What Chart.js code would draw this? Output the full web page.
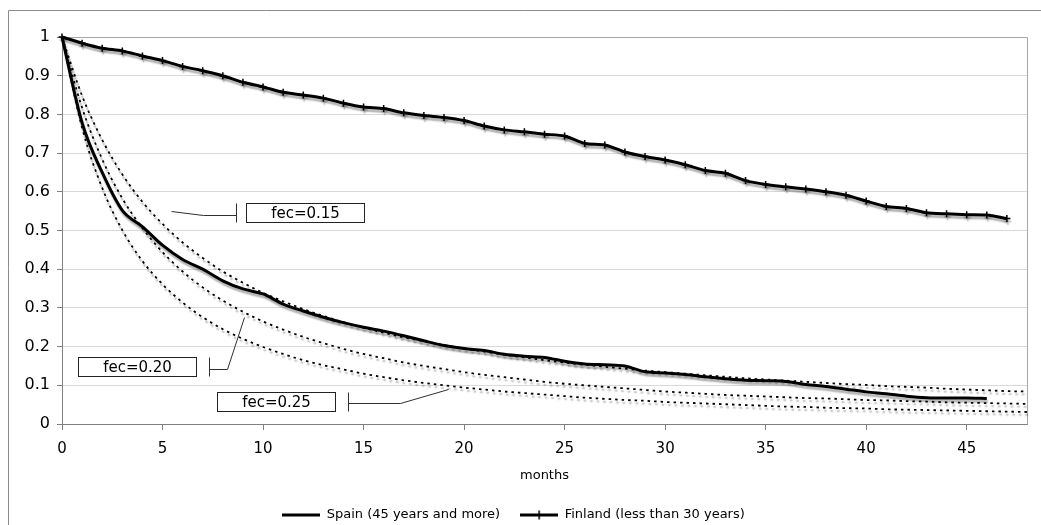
<!DOCTYPE html>
<html><head><meta charset="utf-8">
<script src="https://cdn.jsdelivr.net/npm/chart.js@4.4.1/dist/chart.umd.min.js"></script>
<style>html,body{margin:0;padding:0;background:#fff;}canvas{display:block;}</style>
</head><body>
<canvas id="c" width="1041" height="525"></canvas>
<script>
// ---- data ----
const months = [0,1,2,3,4,5,6,7,8,9,10,11,12,13,14,15,16,17,18,19,20,21,22,23,24,25,26,27,28,29,30,31,32,33,34,35,36,37,38,39,40,41,42,43,44,45,46,47,48];
const spain = [1.000,0.778,0.650,0.552,0.510,0.462,0.425,0.400,0.370,0.349,0.336,0.310,0.292,0.276,0.262,0.250,0.240,0.228,0.215,0.203,0.195,0.190,0.180,0.175,0.172,0.162,0.155,0.153,0.150,0.135,0.132,0.128,0.122,0.117,0.113,0.112,0.110,0.102,0.097,0.090,0.083,0.078,0.072,0.068,0.067,0.067,0.066];
const finland = [1.000,0.984,0.971,0.964,0.951,0.939,0.924,0.913,0.900,0.883,0.871,0.857,0.850,0.842,0.829,0.819,0.815,0.804,0.797,0.792,0.784,0.770,0.760,0.755,0.749,0.744,0.725,0.721,0.703,0.691,0.682,0.670,0.655,0.648,0.629,0.619,0.613,0.607,0.600,0.591,0.576,0.562,0.557,0.546,0.543,0.541,0.540,0.531];
const fec15 = [1.000,0.848,0.734,0.645,0.574,0.517,0.469,0.429,0.394,0.365,0.339,0.317,0.297,0.279,0.263,0.249,0.236,0.224,0.214,0.204,0.195,0.187,0.179,0.172,0.165,0.159,0.153,0.148,0.143,0.138,0.134,0.130,0.126,0.122,0.118,0.115,0.112,0.109,0.106,0.103,0.101,0.098,0.096,0.094,0.091,0.089,0.087,0.085,0.084];
const fec20 = [1.000,0.817,0.684,0.583,0.506,0.444,0.394,0.353,0.319,0.290,0.265,0.244,0.225,0.209,0.194,0.181,0.170,0.159,0.150,0.142,0.134,0.127,0.121,0.115,0.109,0.104,0.100,0.096,0.092,0.088,0.084,0.081,0.078,0.075,0.073,0.071,0.069,0.067,0.066,0.064,0.062,0.061,0.059,0.058,0.056,0.055,0.054,0.053,0.052];
const fec25 = [1.000,0.765,0.610,0.501,0.421,0.361,0.314,0.276,0.245,0.220,0.199,0.181,0.165,0.152,0.141,0.130,0.121,0.113,0.106,0.100,0.094,0.089,0.084,0.080,0.076,0.072,0.068,0.065,0.062,0.060,0.057,0.055,0.053,0.051,0.049,0.047,0.045,0.044,0.042,0.041,0.040,0.038,0.037,0.036,0.035,0.034,0.033,0.032,0.031];
const seriesNames = ['Spain (45 years and more)','Finland (less than 30 years)','fec=0.15','fec=0.20','fec=0.25'];
const xTickValues = [0,5,10,15,20,25,30,35,40,45];
const xTickLabels = ['0','5','10','15','20','25','30','35','40','45'];
const yTickLabels = ['0','0.1','0.2','0.3','0.4','0.5','0.6','0.7','0.8','0.9','1'];
const xTitle = 'months';

// callout annotations, anchored in data units
const callouts = [
  {text:'fec=0.15', box:[9.15,15.0,0.546], bar:8.66, leader:[[8.66,0.539],[7.03,0.539],[5.41,0.551]]},
  {text:'fec=0.20', box:[0.81,6.67,0.149], bar:7.31, leader:[[7.31,0.141],[8.19,0.141],[9.06,0.277]]},
  {text:'fec=0.25', box:[7.70,13.60,0.059], bar:14.21, leader:[[14.21,0.0535],[16.82,0.0535],[19.2,0.09]]}
];

const FONT = '"DejaVu Sans", Verdana, sans-serif';
const toXY = arr => arr.map((v,i)=>({x:months[i], y:v}));

// legend sample images
function legendImg(withCross){
  const cv = document.createElement('canvas'); cv.width = 38; cv.height = 11;
  const g = cv.getContext('2d');
  g.strokeStyle = '#000'; g.lineWidth = 3;
  g.beginPath(); g.moveTo(0,5.5); g.lineTo(38,5.5); g.stroke();
  if (withCross){ g.lineWidth = 1.5; g.beginPath(); g.moveTo(19,1); g.lineTo(19,10); g.stroke(); }
  return cv;
}
const legendImgs = [legendImg(false), legendImg(true)];

const decor = {
  id:'decor',
  beforeDraw(chart){
    const ctx = chart.ctx;
    ctx.save();
    ctx.fillStyle = '#fff'; ctx.fillRect(0,0,chart.width,chart.height);
    ctx.strokeStyle = '#8c8c8c'; ctx.lineWidth = 1;
    ctx.beginPath(); ctx.moveTo(8.5, chart.height); ctx.lineTo(8.5, 10.5); ctx.lineTo(chart.width, 10.5); ctx.stroke();
    ctx.restore();
  },
  beforeDatasetsDraw(chart){
    const ctx = chart.ctx, a = chart.chartArea;
    ctx.save();
    ctx.strokeStyle = '#a6a6a6'; ctx.lineWidth = 1;
    ctx.beginPath(); ctx.moveTo(Math.round(a.left)+0.5, Math.round(a.top)+0.5); ctx.lineTo(Math.round(a.right)+0.5, Math.round(a.top)+0.5); ctx.lineTo(Math.round(a.right)+0.5, Math.round(a.bottom)+0.5); ctx.stroke();
    ctx.restore();
  },
  beforeDatasetDraw(chart){
    const ctx = chart.ctx;
    ctx.save();
    ctx.shadowColor = 'rgba(0,0,0,0.3)'; ctx.shadowOffsetX = 1; ctx.shadowOffsetY = 3; ctx.shadowBlur = 1.5;
  },
  afterDatasetDraw(chart){ chart.ctx.restore(); },
  afterDraw(chart){
    const ctx = chart.ctx, xs = chart.scales.x, ys = chart.scales.y;
    ctx.save();
    callouts.forEach(c=>{
      const x0 = Math.round(xs.getPixelForValue(c.box[0]))+0.5;
      const x1 = Math.round(xs.getPixelForValue(c.box[1]))+0.5;
      const yc = ys.getPixelForValue(c.box[2]);
      const h = 19, top = Math.round(yc-h/2)+0.5;
      ctx.strokeStyle = '#303030'; ctx.lineWidth = 1;
      ctx.beginPath();
      c.leader.forEach((p,i)=>{ const px = Math.round(xs.getPixelForValue(p[0]))+0.5, py = Math.round(ys.getPixelForValue(p[1]))+0.5; if(i) ctx.lineTo(px,py); else ctx.moveTo(px,py); });
      ctx.stroke();
      const bx = Math.round(xs.getPixelForValue(c.bar))+0.5;
      ctx.beginPath(); ctx.moveTo(bx, top); ctx.lineTo(bx, top+h); ctx.stroke();
      ctx.fillStyle = '#fff'; ctx.fillRect(x0, top, x1-x0, h);
      ctx.strokeStyle = '#222'; ctx.strokeRect(x0, top, x1-x0, h);
      ctx.fillStyle = '#000'; ctx.font = '15px ' + FONT; ctx.textAlign = 'center'; ctx.textBaseline = 'middle';
      ctx.fillText(c.text, (x0+x1)/2, top + h/2 + 1);
    });
    ctx.restore();
  }
};

const dotted = {borderColor:'#000', borderWidth:1.8, borderDash:[2.5,4], pointRadius:0, cubicInterpolationMode:'monotone'};

new Chart(document.getElementById('c'), {
  type:'line',
  data:{datasets:[
    {label:seriesNames[0], data:toXY(spain), borderColor:'#000', borderWidth:3, pointRadius:0, cubicInterpolationMode:'monotone'},
    {label:seriesNames[1], data:toXY(finland), borderColor:'#000', borderWidth:3, pointStyle:'cross', pointRadius:3.5, pointBorderWidth:1.5, pointBorderColor:'#000', pointBackgroundColor:'#000', tension:0.25},
    Object.assign({label:seriesNames[2], data:toXY(fec15)}, dotted),
    Object.assign({label:seriesNames[3], data:toXY(fec20)}, dotted),
    Object.assign({label:seriesNames[4], data:toXY(fec25)}, dotted)
  ]},
  options:{
    responsive:false, animation:false, devicePixelRatio:1,
    layout:{padding:{left:0, right:14, top:37, bottom:-6.5}},
    datasets:{line:{clip:false, fill:false}},
    events:[],
    scales:{
      x:{type:'linear', min:0, max:48,
         ticks:{stepSize:5, includeBounds:false, maxRotation:0, autoSkip:false, color:'#000', padding:10, font:{family:FONT, size:15},
                callback:(v)=>{ const i = xTickValues.indexOf(v); return i>=0 ? xTickLabels[i] : ''; }},
         grid:{drawOnChartArea:false, drawTicks:true, tickLength:6, tickColor:'#808080'},
         border:{color:'#808080', width:1},
         title:{display:true, text:xTitle, color:'#000', font:{family:FONT, size:13}, padding:{top:11, bottom:5}},
         afterFit(s){ s.height = 64.5; }},
      y:{min:0, max:1,
         ticks:{stepSize:0.1, color:'#000', padding:7, font:{family:FONT, size:16},
                callback:(v)=> yTickLabels[Math.round(v*10)]},
         grid:{color:'#d9d9d9', tickLength:5, tickColor:'#808080'},
         border:{color:'#808080', width:1},
         afterFit(s){ s.width = 62; }}
    },
    plugins:{
      legend:{position:'bottom',
        labels:{usePointStyle:true, pointStyleWidth:38, padding:20, color:'#000', font:{family:FONT, size:13},
          filter:(item)=> item.datasetIndex < 2,
          generateLabels:(chart)=>{
            const items = Chart.defaults.plugins.legend.labels.generateLabels(chart);
            items.forEach(it=>{ if (it.datasetIndex < 2) it.pointStyle = legendImgs[it.datasetIndex]; });
            return items;
          }}},
      tooltip:{enabled:false}
    }
  },
  plugins:[decor]
});
</script>
</body></html>
